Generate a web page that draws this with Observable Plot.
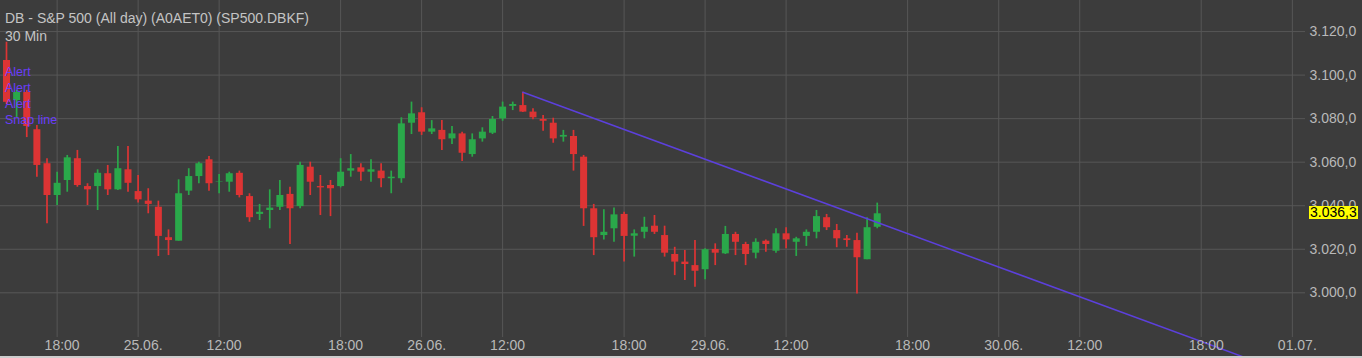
<!DOCTYPE html>
<html>
<head>
<meta charset="utf-8">
<script src="https://cdn.jsdelivr.net/npm/d3@7"></script>
<script src="https://cdn.jsdelivr.net/npm/@observablehq/plot@0.6"></script>
<style>
  html, body { margin: 0; padding: 0; background: #cdcdcd; overflow: hidden; }
  #wrap { position: relative; width: 1362px; height: 356px; overflow: hidden; background: #3c3c3c;
          font-family: "Liberation Sans", Arial, sans-serif; }
  .t { position: absolute; left: 5px; font-size: 14px; color: #c4c4c4; white-space: nowrap; }
  .a { position: absolute; left: 5px; font-size: 12.5px; color: #6a3dfa; white-space: nowrap; }
  #price { position: absolute; left: 1309px; height: 13px; line-height: 13px; font-size: 14px;
           background: #ffff00; color: #000; padding: 0 1px; }
</style>
</head>
<body>
<div id="wrap">
  <div id="chart"></div>
  <div class="t" style="top:10px">DB - S&amp;P 500 (All day) (A0AET0) (SP500.DBKF)</div>
  <div class="t" style="top:28px">30 Min</div>
  <div class="a" style="top:65px">Alert</div>
  <div class="a" style="top:81px">Alert</div>
  <div class="a" style="top:97px">Alert</div>
  <div class="a" style="top:113px">Snap line</div>
</div>
<script>
// 30-minute candles (S&P 500), in order
const opens  = [3106.7,3088.3,3092.0,3074.9,3059.3,3044.7,3051.6,3061.6,3048.8,3048.8,3054.7,3047.3,3056.5,3046.5,3042.1,3039.3,3025.3,3023.7,3046.7,3053.4,3061.1,3050.8,3050.8,3054.9,3044.2,3036.0,3037.8,3039.3,3045.2,3039.6,3057.7,3048.8,3049.3,3048.8,3055.9,3057.4,3055.4,3055.9,3052.4,3052.4,3077.9,3082.7,3073.8,3074.6,3070.7,3073.0,3063.5,3070.7,3073.3,3079.9,3085.6,3086.0,3083.0,3079.6,3077.9,3071.5,3071.8,3062.3,3038.6,3026.3,3029.4,3036.0,3026.0,3027.8,3030.6,3026.3,3017.6,3014.1,3012.5,3010.6,3019.9,3017.9,3026.8,3022.2,3018.2,3023.7,3019.1,3027.1,3023.2,3025.9,3027.8,3034.5,3028.6,3024.8,3024.0,3015.2,3030.1];
const highs  = [3115.1,3093.0,3093.0,3076.8,3061.6,3055.4,3063.1,3065.4,3050.1,3056.5,3058.5,3067.2,3067.2,3053.9,3047.8,3042.1,3028.9,3051.9,3057.0,3060.0,3062.6,3054.3,3055.4,3055.9,3045.5,3040.6,3047.3,3051.6,3048.5,3060.0,3060.0,3053.9,3051.6,3061.6,3063.5,3059.3,3061.1,3059.3,3055.9,3080.4,3087.6,3085.0,3079.1,3079.1,3076.4,3073.8,3073.0,3075.8,3081.0,3087.6,3087.6,3092.1,3084.5,3081.4,3080.2,3074.6,3074.6,3063.1,3040.6,3038.1,3039.0,3037.0,3028.9,3034.7,3035.5,3030.6,3020.9,3019.4,3024.0,3020.2,3022.5,3030.5,3027.8,3023.2,3024.8,3024.3,3029.4,3029.9,3025.5,3028.9,3037.8,3036.0,3031.4,3026.3,3027.4,3034.5,3041.2];
const lows   = [3086.5,3080.5,3071.3,3053.1,3031.7,3040.1,3046.2,3048.5,3040.1,3037.8,3044.7,3047.0,3046.2,3041.2,3036.3,3016.7,3017.1,3023.7,3044.7,3050.1,3046.7,3045.5,3046.2,3043.6,3032.4,3033.2,3029.4,3037.8,3022.2,3038.6,3044.7,3035.5,3035.0,3048.2,3053.1,3051.3,3050.8,3048.2,3045.5,3050.3,3072.7,3072.3,3072.7,3065.4,3068.1,3060.3,3062.3,3069.2,3072.7,3078.8,3083.7,3082.8,3079.5,3074.2,3068.7,3069.2,3055.9,3030.5,3017.1,3024.3,3023.2,3014.1,3016.4,3024.8,3026.8,3016.4,3007.9,3005.6,3002.6,3006.0,3012.5,3017.6,3017.1,3012.5,3015.6,3018.6,3018.2,3020.2,3016.7,3021.3,3024.8,3028.6,3020.7,3020.9,2999.5,3015.2,3029.4];
const closes = [3087.5,3092.0,3076.4,3058.5,3044.7,3050.3,3062.0,3049.3,3047.3,3054.9,3047.3,3057.0,3050.3,3042.7,3040.6,3025.9,3024.0,3045.5,3053.4,3059.3,3050.1,3051.0,3054.7,3044.7,3034.5,3037.0,3038.9,3044.7,3038.6,3058.5,3050.8,3048.2,3047.8,3055.4,3057.0,3055.4,3056.5,3052.4,3053.1,3077.6,3082.2,3073.8,3075.3,3070.3,3073.0,3064.1,3070.3,3073.8,3079.6,3085.3,3086.5,3083.0,3080.4,3078.8,3070.7,3072.3,3063.5,3038.6,3025.3,3027.8,3035.8,3025.9,3027.1,3030.1,3027.8,3018.2,3014.1,3013.0,3009.9,3019.8,3018.2,3026.8,3023.2,3017.6,3023.2,3022.2,3027.1,3024.3,3024.8,3027.8,3035.0,3029.9,3024.8,3024.0,3016.1,3029.9,3036.3];

// time-axis ticks (candle slot index) and their labels
const xTickSlots  = [5, 13, 21, 33, 41, 49, 61, 69, 77, 89, 98, 106, 118, 127];
const xTickLabels = ["18:00","25.06.","12:00","18:00","26.06.","12:00","18:00","29.06.","12:00","18:00","30.06.","12:00","18:00","01.07."];

// price-axis ticks
const yTicks = [3000, 3020, 3040, 3060, 3080, 3100, 3120];

// drawn trend line ("Snap line"): slot index and price at both ends
const snapSlots  = [51, 125];
const snapPrices = [3092.1, 2965.7];

const candles = opens.map((o, i) => ({i, open: o, high: highs[i], low: lows[i], close: closes[i]}));
const snap = snapSlots.map((s, k) => ({i: s, v: snapPrices[k]}));
const labelOf = new Map(xTickSlots.map((s, k) => [s, xTickLabels[k]]));
const de = d3.formatLocale({decimal: ",", thousands: ".", grouping: [3], currency: ["", ""]});
const fmt = de.format(",.1f");

const RED = "#dd3434", GREEN = "#2aa84a";
const col = d => d.close >= d.open ? GREEN : RED;

const chart = Plot.plot({
  width: 1362, height: 356,
  marginLeft: 0, marginRight: 57, marginTop: 0, marginBottom: 19,
  x: {domain: [-0.593, 128.3], axis: null, label: null},
  y: {domain: [2979.47, 3134.27], axis: null, label: null},
  style: {background: "#3c3c3c", color: "#b9b9b9", fontFamily: "Liberation Sans, Arial, sans-serif", fontSize: "14px", overflow: "hidden"},
  marks: [
    Plot.ruleY(yTicks, {stroke: "#575757", strokeWidth: 1}),
    Plot.ruleX(xTickSlots, {stroke: "#575757", strokeWidth: 1}),
    Plot.ruleX(candles, {x: "i", y1: "low", y2: "high", stroke: col, strokeWidth: 1.7}),
    Plot.ruleX(candles, {x: "i", y1: "open", y2: "close", stroke: col, strokeWidth: 7}),
    Plot.line(snap, {x: "i", y: "v", stroke: "#5c40dc", strokeWidth: 1.5}),
    Plot.axisY(yTicks, {anchor: "right", tickSize: 0, tickPadding: 4, tickFormat: fmt, fill: "#b9b9b9", label: null}),
    Plot.axisX(xTickSlots, {anchor: "bottom", tickSize: 0, tickPadding: 3, dx: 5, tickFormat: d => labelOf.get(d), fill: "#b9b9b9", label: null})
  ]
});
document.getElementById("chart").appendChild(chart);

// current price marker on the price axis
const last = closes[closes.length - 1];
const py = chart.scale("y").apply(last);
const tag = document.createElement("div");
tag.id = "price";
tag.textContent = fmt(last);
tag.style.top = (py - 7) + "px";
document.getElementById("wrap").appendChild(tag);
</script>
</body>
</html>
